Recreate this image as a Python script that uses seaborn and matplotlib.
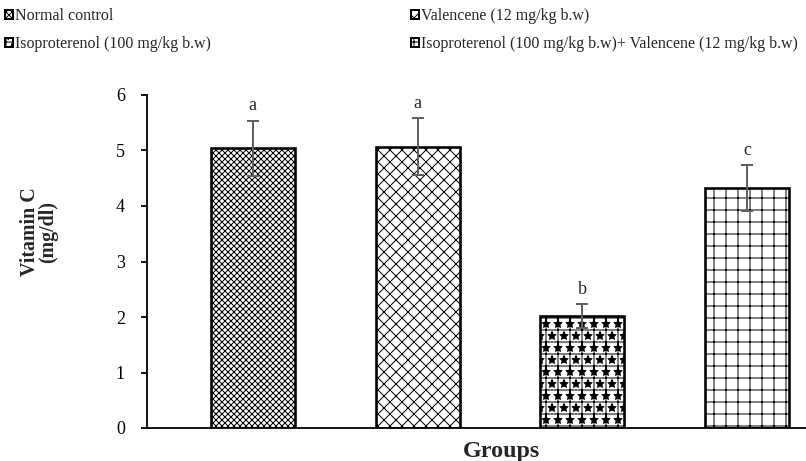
import matplotlib
matplotlib.use("Agg")
import matplotlib.pyplot as plt
import seaborn as sns
import pandas as pd
from matplotlib.patches import Patch

groups = ["Normal control", "Valencene (12 mg/kg b.w)",
          "Isoproterenol (100 mg/kg b.w)",
          "Isoproterenol (100 mg/kg b.w)+ Valencene (12 mg/kg b.w)"]
values = [5.04, 5.07, 2.02, 4.32]
errors = [0.50, 0.51, 0.21, 0.41]
letters = ["a", "a", "b", "c"]
hatches = ["xxxxxxxx", "xxxx", "**++", "++"]

sns.set_style("white")
plt.rcParams["font.family"] = ["Liberation Serif", "DejaVu Serif"]
plt.rcParams["hatch.linewidth"] = 0.5

DPI = 144
fig = plt.figure(figsize=(806 / DPI, 461 / DPI), dpi=DPI)
ax = fig.add_axes([147 / 806, 33 / 461, (806 - 147) / 806, 333 / 461])

df = pd.DataFrame({"group": groups, "value": values})
sns.barplot(data=df, x="group", y="value", order=groups, color="white",
            edgecolor="black", linewidth=1.3, width=0.51, errorbar=None, ax=ax)

for patch, h in zip(ax.patches, hatches):
    patch.set_hatch(h)
    patch.set_facecolor("white")

xs = list(range(len(groups)))
ax.errorbar(xs, values, yerr=errors, fmt="none", ecolor="#606060",
            elinewidth=1.0, capsize=3, capthick=1.0, zorder=5)
for x, v, e, l in zip(xs, values, errors, letters):
    ax.text(x, v + e + 0.12, l, ha="center", va="bottom", fontsize=9)

ax.set_xlim(-0.642, 3.358)
ax.set_ylim(0, 6)
ax.set_yticks(range(0, 7))
ax.set_xticks([])
for s in ["top", "right"]:
    ax.spines[s].set_visible(False)
for s in ["left", "bottom"]:
    ax.spines[s].set_linewidth(0.9)
    ax.spines[s].set_color("black")
ax.tick_params(axis="y", direction="out", length=3, width=0.9, labelsize=9,
               left=True, pad=8, colors="black")
ax.set_xlabel("")
ax.set_ylabel("")
fig.text(501 / 806, 1 - 452 / 461, "Groups", ha="center", va="center",
         fontsize=12, fontweight="bold")
fig.text(39 / 806, 1 - 232 / 461, "Vitamin C\n(mg/dl)", ha="center", va="center",
         rotation=90, fontsize=10, fontweight="bold", linespacing=0.9,
         multialignment="center")

handles = [Patch(facecolor="white", edgecolor="black", hatch=h, linewidth=1.0)
           for h in [hatches[0], hatches[2], hatches[1], hatches[3]]]
labels = [groups[0], groups[2], groups[1], groups[3]]
fig.legend(handles, labels, loc="upper left", bbox_to_anchor=(0.0, 0.993),
           ncol=2, frameon=False, fontsize=8.0, handlelength=0.5,
           handleheight=0.5, handletextpad=0.15, labelspacing=0.75,
           columnspacing=12.5, borderaxespad=0.0, borderpad=0.3)

fig.savefig("out.png", dpi=DPI)
